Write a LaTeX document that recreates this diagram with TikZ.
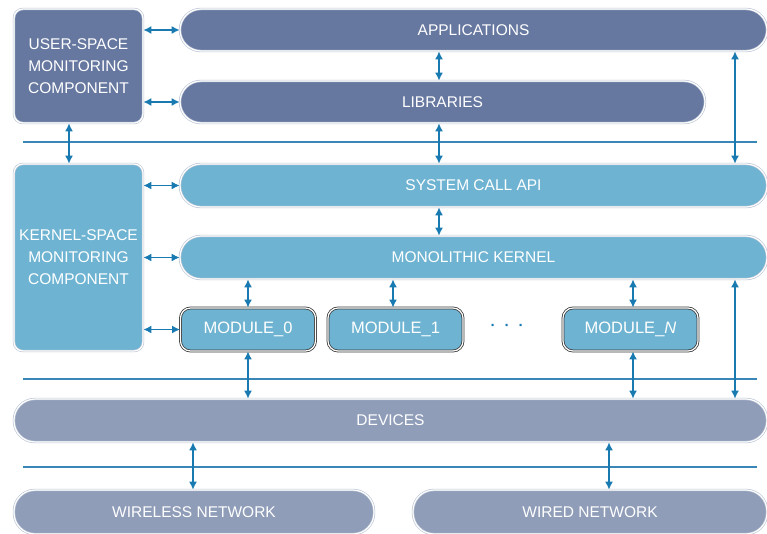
\documentclass[tikz,border=0pt]{standalone}
\usepackage{fontspec}
\setmainfont{Liberation Sans}
\usetikzlibrary{arrows.meta}
\definecolor{darkfill}{RGB}{102,120,160}
\definecolor{lightfill}{RGB}{110,180,210}
\definecolor{grayfill}{RGB}{143,157,185}
\definecolor{arrc}{RGB}{24,122,176}
\definecolor{sepc}{RGB}{58,134,182}
\definecolor{bordc}{RGB}{185,195,212}
\definecolor{modbord}{RGB}{55,55,55}
\begin{document}
\begin{tikzpicture}[x=1pt,y=-1pt,
  box/.style={rectangle, draw=bordc, double=white, double distance=1.2pt, line width=0.6pt,
    text=white, font=\fontsize{15.5}{22}\selectfont, inner sep=0pt, align=center},
  pill/.style={box, rounded corners=21pt},
  sqbox/.style={box, rounded corners=9pt},
  modbox/.style={box, draw=modbord, line width=0.8pt, fill=lightfill, rounded corners=10pt, minimum width=135pt, minimum height=43pt, font=\fontsize{16.5}{20}\selectfont},
  arr/.style={draw=arrc, line width=1.6pt, {Latex[length=8pt,width=8pt]}-{Latex[length=8pt,width=8pt]}},
  sep/.style={draw=sepc, line width=2.6pt}]
\useasboundingbox (0,0) rectangle (767,533);
\fill[white] (0,0) rectangle (767,533);

% separators
\coordinate (s1l) at (23,142); \coordinate (s1r) at (757,142);
\coordinate (s2l) at (23,379); \coordinate (s2r) at (757,379);
\coordinate (s3l) at (23,467); \coordinate (s3r) at (757,467);
\draw[sep] (s1l) -- (s1r);
\draw[sep] (s2l) -- (s2r);
\draw[sep] (s3l) -- (s3r);

% nodes
\node[sqbox, fill=darkfill, minimum width=129pt, minimum height=114pt] (user) at (78.5,66) {USER-SPACE\\MONITORING\\COMPONENT};
\node[pill, fill=darkfill, minimum width=587pt, minimum height=42pt] (app) at (473.5,30) {APPLICATIONS};
\node[pill, fill=darkfill, minimum width=525pt, minimum height=42pt] (lib) at (442.5,102) {LIBRARIES};
\node[pill, fill=lightfill, minimum width=587pt, minimum height=43pt] (sys) at (473.5,185.5) {SYSTEM CALL API};
\node[sqbox, fill=lightfill, minimum width=129pt, minimum height=187pt] (kspace) at (78.5,257.5) {KERNEL-SPACE\\MONITORING\\COMPONENT};
\node[pill, fill=lightfill, minimum width=587pt, minimum height=43pt] (mono) at (473.5,257.5) {MONOLITHIC KERNEL};
\node[modbox] (m0) at (248,329.5) {MODULE\_0};
\node[modbox] (m1) at (395.5,329.5) {MODULE\_1};
\node[modbox] (mn) at (630.5,329.5) {MODULE\_\textit{N}};
\node[text=arrc, font=\fontsize{15}{18}\selectfont\bfseries, inner sep=0pt] (dots) at (507,327) {·\hspace{9pt}·\hspace{9pt}·};
\node[pill, fill=grayfill, minimum width=753pt, minimum height=43pt] (dev) at (390.5,420.5) {DEVICES};
\node[pill, fill=grayfill, minimum width=360pt, minimum height=44pt] (wless) at (194,512) {WIRELESS NETWORK};
\node[pill, fill=grayfill, minimum width=354pt, minimum height=44pt] (wired) at (590,512) {WIRED NETWORK};

% x positions
\coordinate (xu) at (69,0);
\coordinate (xc) at (439,0);
\coordinate (xr) at (735,0);
\coordinate (x1) at (393,0);
\coordinate (xn) at (633,0);
\coordinate (xw) at (193,0);
\coordinate (xd) at (609,0);

% arrows
\draw[arr] (user.east |- app.west) -- (app.west);
\draw[arr] (user.east |- lib.west) -- (lib.west);
\draw[arr] (user.south -| xu) -- (kspace.north -| xu);
\draw[arr] (app.south -| xc) -- (lib.north -| xc);
\draw[arr] (lib.south -| xc) -- (sys.north -| xc);
\draw[arr] (sys.south -| xc) -- (mono.north -| xc);
\draw[arr] (app.south -| xr) -- (sys.north -| xr);
\draw[arr] (mono.south -| xr) -- (dev.north -| xr);
\draw[arr] (kspace.east |- sys.west) -- (sys.west);
\draw[arr] (kspace.east |- mono.west) -- (mono.west);
\draw[arr] (kspace.east |- m0.west) -- (m0.west);
\draw[arr] (mono.south -| m0.north) -- (m0.north);
\draw[arr] (mono.south -| x1) -- (m1.north -| x1);
\draw[arr] (mono.south -| xn) -- (mn.north -| xn);
\draw[arr] (m0.south) -- (dev.north -| m0.south);
\draw[arr] (mn.south -| xn) -- (dev.north -| xn);
\draw[arr] (dev.south -| xw) -- (wless.north -| xw);
\draw[arr] (dev.south -| xd) -- (wired.north -| xd);
\end{tikzpicture}
\end{document}
